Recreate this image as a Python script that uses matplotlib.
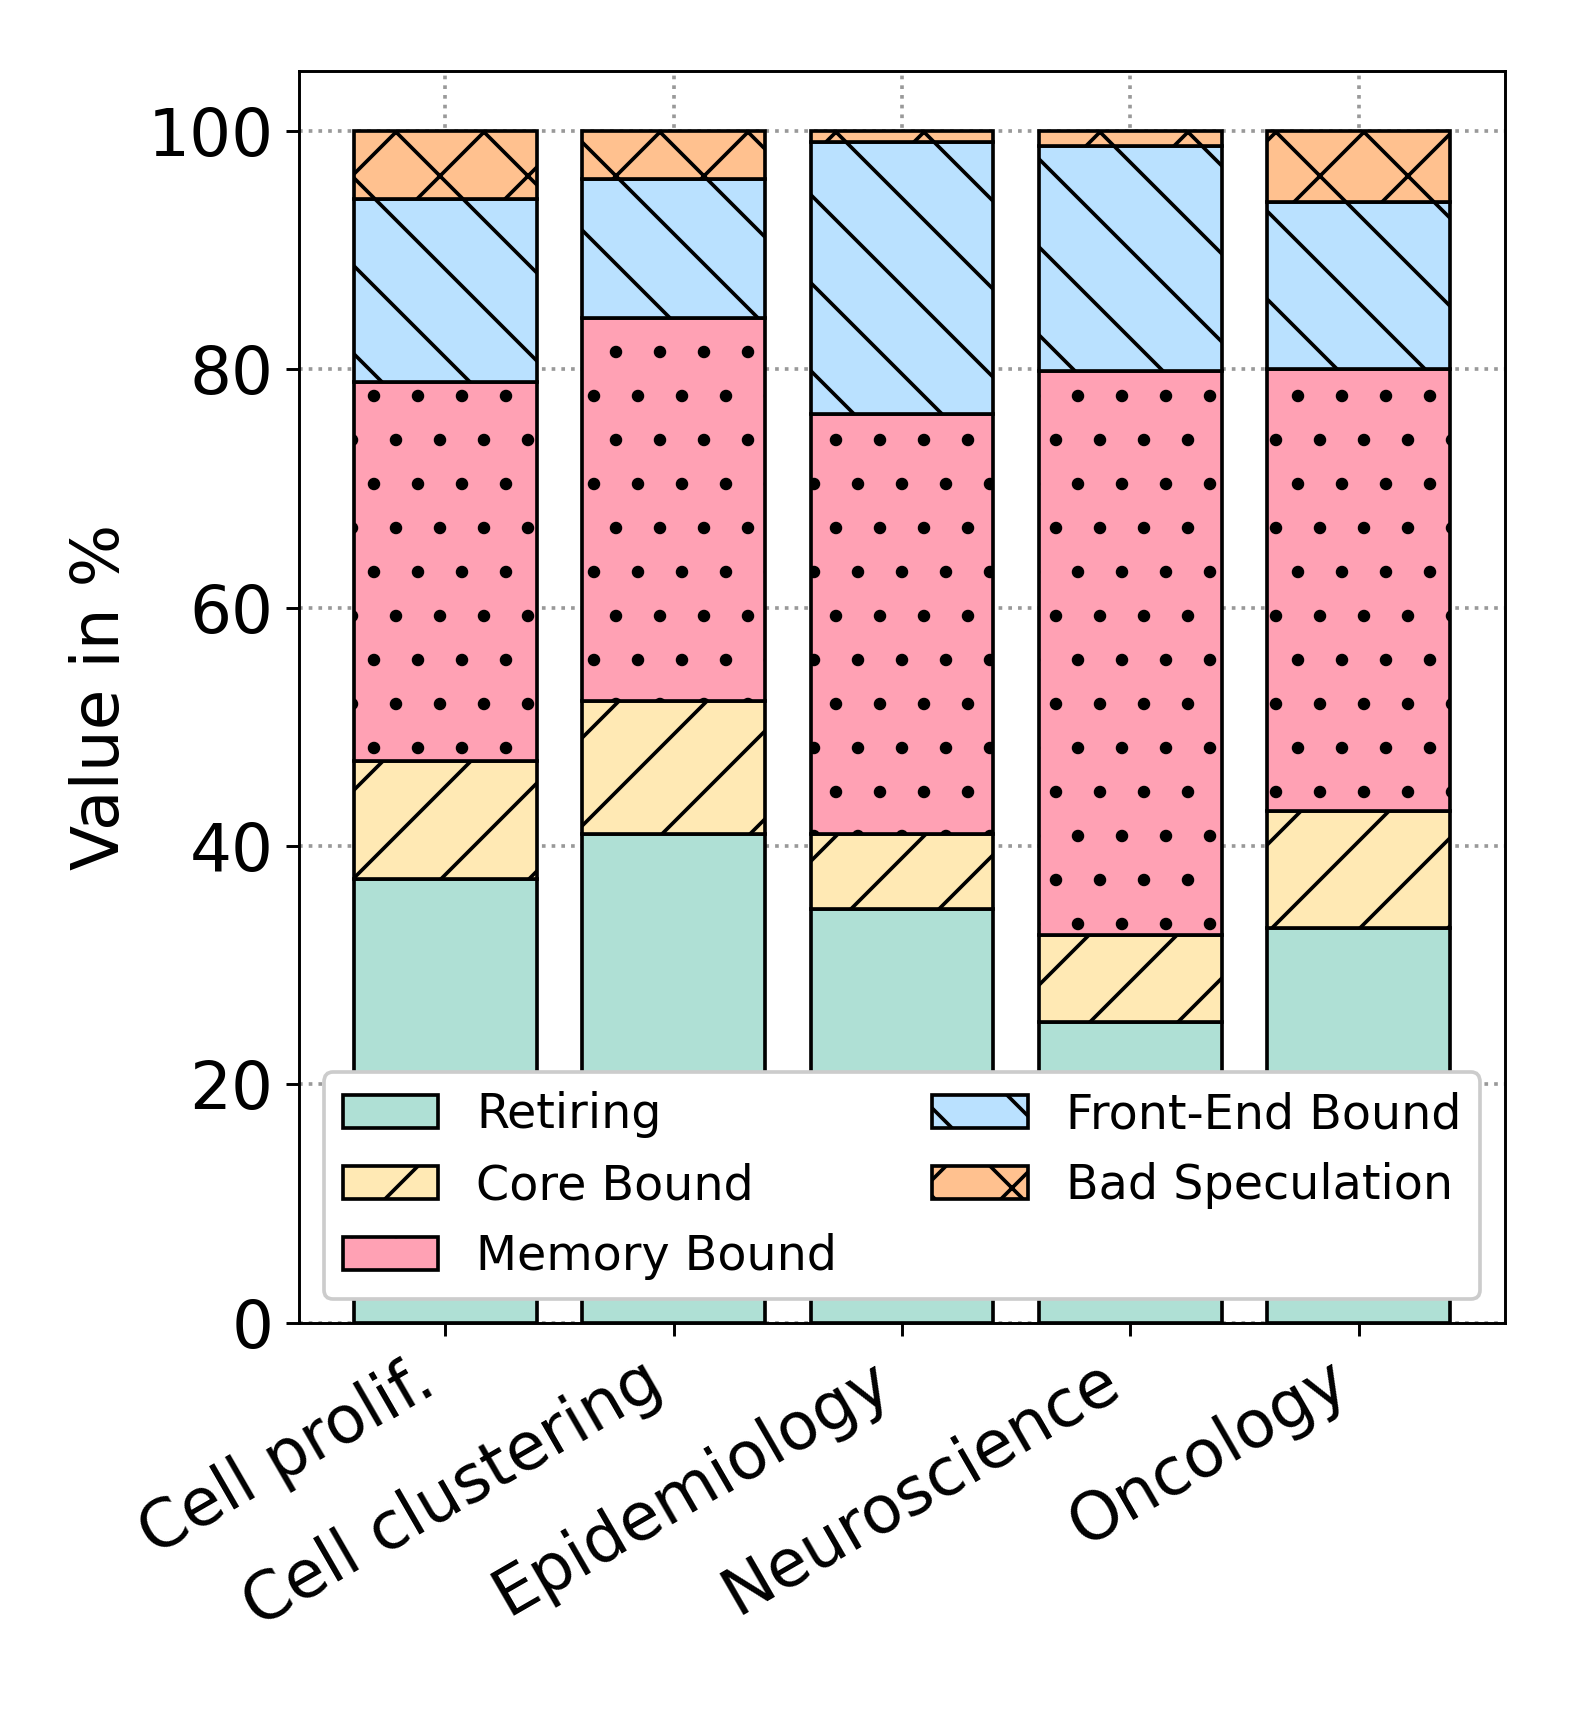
import matplotlib
matplotlib.use("Agg")
import matplotlib.pyplot as plt
import numpy as np

categories = ["Cell prolif.", "Cell clustering", "Epidemiology", "Neuroscience", "Oncology"]
series_names = ["Retiring", "Core Bound", "Memory Bound", "Front-End Bound", "Bad Speculation"]
retiring = [37.2, 41.0, 34.7, 25.2, 33.1]
core_bound = [9.9, 11.2, 6.3, 7.3, 9.8]
memory_bound = [31.8, 32.1, 35.2, 47.3, 37.1]
front_end_bound = [15.4, 11.6, 22.8, 18.9, 14.0]
bad_speculation = [5.7, 4.1, 1.0, 1.3, 6.0]

colors = ["#afe0d5", "#ffe9b4", "#ffa1b4", "#bae1ff", "#ffc18f"]
hatches = ["", "/", ".", "\\", "x"]

DPI = 264
fig = plt.figure(figsize=(1578 / DPI, 1709 / DPI), dpi=DPI)
ax = fig.add_axes([0.1895, 0.2259, 0.9537 - 0.1895, 0.9585 - 0.2259])

x = np.arange(len(categories))
bottom = np.zeros(len(categories))
for name, vals, c, h in zip(series_names,
                            [retiring, core_bound, memory_bound, front_end_bound, bad_speculation],
                            colors, hatches):
    vals = np.array(vals)
    ax.bar(x, vals, 0.8, bottom=bottom, color=c, edgecolor="black", linewidth=1.0,
           hatch=h, label=name, zorder=3)
    bottom += vals

ax.set_axisbelow(True)
ax.grid(True, linestyle=":", color="#999999", linewidth=1.0, zorder=0)
ax.set_xticks(x)
ax.set_xticklabels(categories, rotation=30, ha="right", fontsize=18)
ax.tick_params(axis="y", labelsize=18)
ax.set_ylabel("Value in %", fontsize=18)
ax.set_yticks([0, 20, 40, 60, 80, 100])

leg = ax.legend(loc="lower center", ncol=2, fontsize=13, framealpha=1.0)
leg.set_zorder(10)

fig.savefig("out.png", dpi=DPI)
